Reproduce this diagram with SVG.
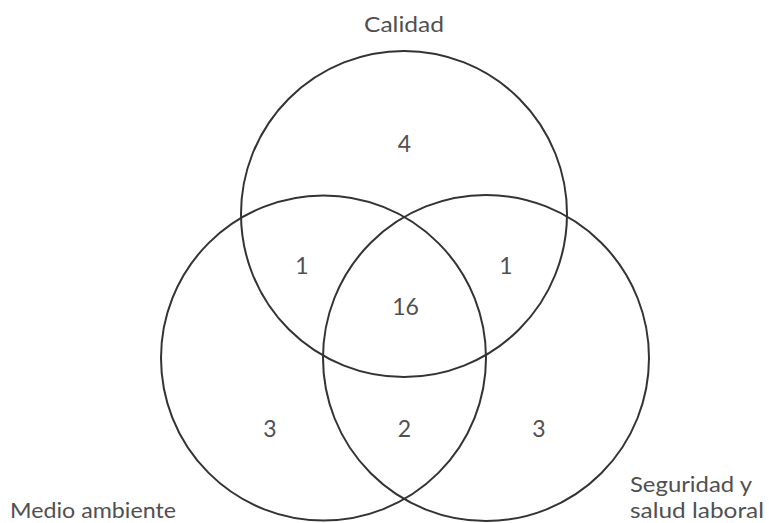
<svg xmlns="http://www.w3.org/2000/svg" width="769" height="523" viewBox="0 0 769 523">
  <style>
    .ring { fill: none; stroke: #333333; stroke-width: 2; }
    .lbl { font-family: Lato, "Liberation Sans", sans-serif; font-size: 22px; fill: #505050; }
    .num { font-family: Lato, "Liberation Sans", sans-serif; font-size: 23px; fill: #505050; text-anchor: middle; }
  </style>
  <rect width="769" height="523" fill="#ffffff"/>
  <g id="calidad">
    <circle class="ring" cx="404" cy="214" r="163"/>
    <text class="lbl" x="364" y="32" textLength="80" lengthAdjust="spacingAndGlyphs">Calidad</text>
  </g>
  <g id="medio-ambiente">
    <circle class="ring" cx="323.5" cy="358" r="162.5"/>
    <text class="lbl" x="10" y="518" textLength="166" lengthAdjust="spacingAndGlyphs">Medio ambiente</text>
  </g>
  <g id="seguridad">
    <circle class="ring" cx="486" cy="358" r="163"/>
    <text class="lbl" x="630" y="492" textLength="122" lengthAdjust="spacingAndGlyphs">Seguridad y</text>
    <text class="lbl" x="630" y="518" textLength="134" lengthAdjust="spacingAndGlyphs">salud laboral</text>
  </g>
  <g id="counts">
    <text class="num" x="404.5" y="152">4</text>
    <text class="num" x="302" y="274">1</text>
    <text class="num" x="506" y="274">1</text>
    <text class="num" x="405.5" y="315">16</text>
    <text class="num" x="270" y="437">3</text>
    <text class="num" x="404.5" y="437">2</text>
    <text class="num" x="539" y="437">3</text>
  </g>
</svg>
